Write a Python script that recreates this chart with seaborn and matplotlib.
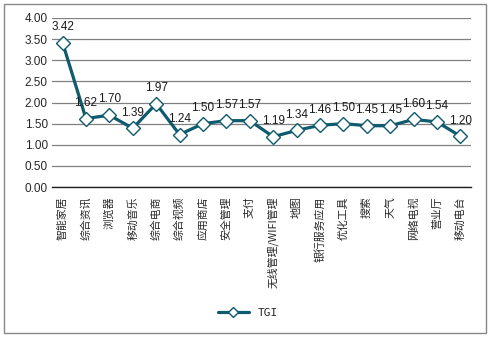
import matplotlib
matplotlib.use("Agg")
import matplotlib.pyplot as plt
import seaborn as sns
import pandas as pd
from matplotlib.patches import Rectangle
from matplotlib.lines import Line2D

categories = ["智能家居", "综合资讯", "浏览器", "移动音乐", "综合电商", "综合视频", "应用商店",
              "安全管理", "支付", "无线管理/WIFI管理", "地图", "银行服务应用", "优化工具", "搜索",
              "天气", "网络电视", "营业厅", "移动电台"]
tgi = [3.42, 1.62, 1.70, 1.39, 1.97, 1.24, 1.50, 1.57, 1.57, 1.19, 1.34, 1.46, 1.50, 1.45,
       1.45, 1.60, 1.54, 1.20]
yticks = [0.0, 0.5, 1.0, 1.5, 2.0, 2.5, 3.0, 3.5, 4.0]

sns.set_theme(style="white")
plt.rcParams['font.family'] = ['Liberation Sans', 'Noto Sans CJK SC', 'DejaVu Sans']

df = pd.DataFrame({"x": list(range(len(categories))), "TGI": tgi})

fig = plt.figure(figsize=(4.94, 3.38), dpi=100)
ax = fig.add_axes([52/494, 1-187/338, (471-52)/494, (187-18)/338])
line_color = "#0E5A6E"
sns.lineplot(data=df, x="x", y="TGI", ax=ax, color=line_color, linewidth=2.3,
             marker="D", markersize=7.5, markerfacecolor="white",
             markeredgecolor=line_color, markeredgewidth=1.0, sort=False, legend=False)

ax.set_xlim(-0.45, len(categories) - 0.55)
ax.set_ylim(0, 4.0)
ax.set_yticks(yticks)
ax.set_yticklabels([f"{v:.2f}" for v in yticks], fontsize=8.5)
ax.set_xticks(range(len(categories)))
ax.set_xticklabels(categories, rotation=90, fontsize=7.8,
                   fontfamily=['Noto Sans CJK SC', 'DejaVu Sans'])
ax.tick_params(axis='y', length=0, pad=3)
ax.tick_params(axis='x', length=0, pad=7)
ax.set_xlabel("")
ax.set_ylabel("")
ax.grid(axis='y', color="#808080", linewidth=0.9)
ax.set_axisbelow(True)
for s in ["top", "right", "left"]:
    ax.spines[s].set_visible(False)
ax.spines["bottom"].set_color("#202020")
ax.spines["bottom"].set_linewidth(1.0)

for i, v in enumerate(tgi):
    ax.annotate(f"{v:.2f}", (i, v), textcoords="offset points", xytext=(0, 7),
                ha="center", va="bottom", fontsize=8.5, color="#1a1a1a")

handle = Line2D([], [], color=line_color, linewidth=2.3, marker="D", markersize=5,
                markerfacecolor="white", markeredgecolor=line_color, markeredgewidth=1.0)
fig.legend([handle], ["TGI"], loc="center", bbox_to_anchor=(248/494, 1-313/338),
           frameon=False, handlelength=2.8,
           prop={'family': ['DejaVu Sans Mono'], 'size': 8})

fig.patches.append(Rectangle((4/494, 1-333/338), (486-4)/494, (333-4)/338,
                             transform=fig.transFigure, fill=False,
                             edgecolor="#888888", linewidth=1.0))

fig.savefig("out.png", dpi=100)
